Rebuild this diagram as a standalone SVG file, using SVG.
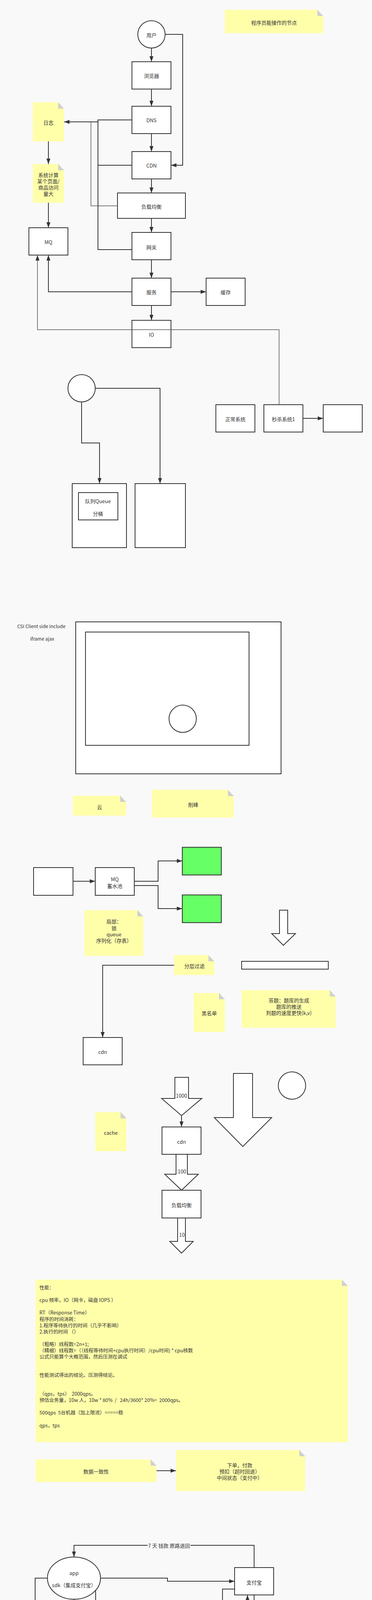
<svg xmlns="http://www.w3.org/2000/svg" width="953" height="5716" viewBox="0 0 953 5716">
<style>
text{font-family:"Noto Sans CJK SC","Liberation Sans",sans-serif;font-size:13px;fill:#333;text-anchor:middle;dominant-baseline:central}
.b{fill:#fff;stroke:#333;stroke-width:2}
.g{fill:#66ff66;stroke:#333;stroke-width:2}
.n{fill:#ffffaa;stroke:none}
.f{fill:#d0d0d0;stroke:none}
.c{fill:none;stroke:#333;stroke-width:2}
.ca{fill:none;stroke:#333;stroke-width:2;marker-end:url(#ah)}
.cg{fill:none;stroke:#555;stroke-width:1.5}
.cga{fill:none;stroke:#555;stroke-width:1.5;marker-end:url(#ah)}
.ba{fill:#fff;stroke:#333;stroke-width:2}
.l{text-anchor:start;font-size:12.5px}
.s{font-size:12px}
</style>
<defs>
<marker id="ah" markerUnits="userSpaceOnUse" markerWidth="14" markerHeight="10" refX="14" refY="5" orient="auto">
<path d="M0,0 L14,5 L0,10 z" fill="#333"/>
</marker>
</defs>
<rect x="0" y="0" width="953" height="5716" fill="#f9f9f9"/>

<g id="nodes">
<g id="note-prog"><polygon class="n" points="576,25 813,25 828,41 828,85 576,85"/><polygon class="f" points="813,25 828,41 813,41"/><text x="702" y="57">程序员能操作的节点</text></g>
<g id="user"><circle class="b" cx="388" cy="88" r="35"/><text x="388" y="89">用户</text></g>
<g id="browser"><rect class="b" x="338" y="158" width="100" height="70"/><text x="388" y="193">浏览器</text></g>
<g id="dns"><rect class="b" x="338" y="272" width="100" height="70"/><text x="388" y="307">DNS</text></g>
<g id="cdn"><rect class="b" x="338" y="388" width="100" height="70"/><text x="388" y="423">CDN</text></g>
<g id="lb"><rect class="b" x="301" y="494" width="174" height="65"/><text x="388" y="528">负载均衡</text></g>
<g id="gateway"><rect class="b" x="338" y="595" width="100" height="70"/><text x="388" y="632">网关</text></g>
<g id="service"><rect class="b" x="338" y="712" width="100" height="70"/><text x="388" y="747">服务</text></g>
<g id="cache1"><rect class="b" x="528" y="712" width="100" height="70"/><text x="578" y="747">缓存</text></g>
<g id="mq"><rect class="b" x="74" y="583" width="100" height="70"/><text x="124" y="619">MQ</text></g>
<g id="io"><rect class="b" x="338" y="820" width="100" height="70"/><text x="388" y="856">IO</text></g>
<g id="log"><polygon class="n" points="84,262 149,262 164,278 164,362 84,362"/><polygon class="f" points="149,262 164,278 149,278"/><text x="124" y="313">日志</text></g>
<g id="note-calc"><polygon class="n" points="84,420 149,420 164,436 164,519 84,519"/><polygon class="f" points="149,420 164,436 149,436"/><text x="124" y="447">系统计算</text><text x="124" y="463">某个页面/</text><text x="124" y="479">商品访问</text><text x="124" y="495">量大</text></g>
<g id="normal"><rect class="b" x="553" y="1036" width="100" height="70"/><text x="603" y="1072">正常系统</text></g>
<g id="seckill"><rect class="b" x="676" y="1036" width="100" height="70"/><text x="726" y="1072">秒杀系统1</text></g>
<g id="blank1"><rect class="b" x="828" y="1036" width="100" height="70"/></g>
<g id="circle1"><circle class="b" cx="209" cy="994" r="35"/></g>
<g id="queue-outer"><rect class="b" x="185" y="1238" width="139" height="164"/></g>
<g id="queue-inner"><rect class="b" x="201" y="1261" width="101" height="70"/><text x="251" y="1282">队列Queue</text><text x="251" y="1314">分桶</text></g>
<g id="tall-right"><rect class="b" x="346" y="1238" width="129" height="164"/></g>

<g id="csi-label"><text class="s" x="106" y="1602">CSI Client side include</text><text class="s" x="108" y="1634">iframe ajax</text></g>
<g id="csi-outer"><rect class="b" x="194" y="1592" width="526" height="389"/></g>
<g id="csi-inner"><rect class="b" x="219" y="1618" width="419" height="290"/></g>
<g id="csi-circle"><circle class="b" cx="468" cy="1840" r="35"/></g>

<g id="note-cloud"><polygon class="n" points="187,2037 308,2037 323,2053 323,2088 187,2088"/><polygon class="f" points="308,2037 323,2053 308,2053"/><text x="255" y="2065">云</text></g>
<g id="note-peak"><polygon class="n" points="389,2022 584,2022 599,2038 599,2093 389,2093"/><polygon class="f" points="584,2022 599,2038 584,2038"/><text x="495" y="2059">削峰</text></g>
<g id="src"><rect class="b" x="86" y="2221" width="101" height="71"/></g>
<g id="mq2"><rect class="b" x="244" y="2221" width="100" height="71"/><text x="294" y="2250">MQ</text><text x="294" y="2267">蓄水池</text></g>
<g id="green1"><rect class="g" x="467" y="2169" width="100" height="71"/></g>
<g id="green2"><rect class="g" x="467" y="2291" width="100" height="71"/></g>
<g id="note-local"><polygon class="n" points="216,2330 352,2330 367,2346 367,2447 216,2447"/><polygon class="f" points="352,2330 367,2346 352,2346"/><text x="292" y="2358">局部：</text><text x="292" y="2375">锁</text><text x="292" y="2391">queue</text><text x="292" y="2407">序列化（存表）</text></g>
<g id="barrow1"><polygon class="ba" points="716,2330 737,2330 737,2390 757,2390 726,2420 696,2390 716,2390"/></g>
<g id="note-layer"><polygon class="n" points="446,2445 534,2445 549,2461 549,2496 446,2496"/><polygon class="f" points="534,2445 549,2461 534,2461"/><text x="498" y="2472">分层过滤</text></g>
<g id="wide-rect"><rect class="b" x="619" y="2461" width="222" height="20"/></g>
<g id="note-black"><polygon class="n" points="496,2542 561,2542 576,2558 576,2642 496,2642"/><polygon class="f" points="561,2542 576,2558 561,2558"/><text x="536" y="2593">黑名单</text></g>
<g id="note-quiz"><polygon class="n" points="619,2535 845,2535 860,2551 860,2631 619,2631"/><polygon class="f" points="845,2535 860,2551 845,2551"/><text x="740" y="2560">答题：题库的生成</text><text x="740" y="2576">题库的推送</text><text x="740" y="2592">判题的速度更快(k,v)</text></g>
<g id="cdn-a"><rect class="b" x="213" y="2656" width="100" height="70"/><text x="263" y="2692">cdn</text></g>
<g id="barrow1000"><polygon class="ba" points="448,2758 483,2758 483,2812 517,2812 465,2856 414,2812 448,2812"/><text x="465" y="2804">1000</text></g>
<g id="barrow-big"><polygon class="ba" points="598,2748 647,2748 647,2861 696,2861 622,2935 549,2861 598,2861"/></g>
<g id="circle2"><circle class="b" cx="748" cy="2779" r="35"/></g>
<g id="note-cache"><polygon class="n" points="244,2847 309,2847 324,2863 324,2947 244,2947"/><polygon class="f" points="309,2847 324,2863 309,2863"/><text x="284" y="2899">cache</text></g>
<g id="cdn-b"><rect class="b" x="415" y="2885" width="100" height="70"/><text x="465" y="2922">cdn</text></g>
<g id="barrow100"><polygon class="ba" points="451,2955 480,2955 480,3006 508,3006 465,3047 422,3006 451,3006"/><text x="466" y="2998">100</text></g>
<g id="lb2"><rect class="b" x="415" y="3047" width="100" height="71"/><text x="465" y="3084">负载均衡</text></g>
<g id="barrow10"><polygon class="ba" points="455,3118 475,3118 475,3178 495,3178 465,3208 435,3178 455,3178"/><text x="466" y="3160">10</text></g>

<g id="note-perf"><polygon class="n" points="91,3276 876,3276 891,3292 891,3692 91,3692"/><polygon class="f" points="876,3276 891,3292 876,3292"/>
<text class="l" x="101" y="3295">性能：</text>
<text class="l" x="101" y="3327">cpu 频率，IO（网卡，磁盘 IOPS ）</text>
<text class="l" x="101" y="3359">RT（Response Time）</text>
<text class="l" x="101" y="3376">程序的时间消耗：</text>
<text class="l" x="101" y="3392">1.程序等待执行的时间（几乎不影响）</text>
<text class="l" x="101" y="3408">2.执行的时间 （）</text>
<text class="l" x="101" y="3440">（粗略）线程数=2n+1;</text>
<text class="l" x="101" y="3456">（精细）线程数=（（线程等待时间+cpu执行时间）/cpu时间) * cpu核数</text>
<text class="l" x="101" y="3472">公式只能算个大概范围，然后压测在调试</text>
<text class="l" x="101" y="3519">性能测试得出的结论。压测得结论。</text>
<text class="l" x="101" y="3567" xml:space="preserve">（qps，tps）  2000qps。</text>
<text class="l" x="101" y="3583" xml:space="preserve">预估业务量，10w 人，10w * 80%  /   24h/3600* 20%=  2000qps。</text>
<text class="l" x="101" y="3615" xml:space="preserve">500qps  5台机器（加上限流）=====稳</text>
<text class="l" x="101" y="3648">qps，tps</text>
</g>

<g id="note-consist"><polygon class="n" points="91,3736 386,3736 401,3752 401,3794 91,3794"/><polygon class="f" points="386,3736 401,3752 386,3752"/><text x="246" y="3766">数据一致性</text></g>
<g id="note-order"><polygon class="n" points="451,3712 767,3712 782,3728 782,3817 451,3817"/><polygon class="f" points="767,3712 782,3728 767,3728"/><text x="614" y="3750">下单，付款</text><text x="614" y="3766">预扣（超时回退）</text><text x="614" y="3782">中间状态（支付中）</text></g>
<g id="app"><ellipse class="b" cx="189.5" cy="4040" rx="68" ry="54"/><text x="189.5" y="4026">app</text><text x="189.5" y="4057">sdk（集成支付宝）</text></g>
<g id="alipay"><rect class="b" x="601" y="4013" width="100" height="70"/><text x="651" y="4050">支付宝</text></g>
<g id="query"><ellipse class="b" cx="446" cy="4227" rx="34" ry="35"/><text x="446" y="4213">查询支</text><text x="446" y="4229">付状态</text><text x="446" y="4245">接口</text></g>
<g id="note-unpaid"><polygon class="n" points="100,4246 256,4246 271,4262 271,4326 100,4326"/><polygon class="f" points="256,4246 271,4262 256,4262"/><text x="185" y="4287" xml:space="preserve">没付款成功  支付中</text></g>
<g id="oursys"><rect class="b" x="601" y="4304" width="100" height="70"/><text x="651" y="4340">我方系统</text></g>
<g id="changeorder"><rect class="b" x="368" y="4304" width="101" height="70"/><text x="419" y="4325">改订单状态</text><text x="419" y="4341">后面的业务逻</text><text x="419" y="4357">辑</text></g>
<g id="timer"><ellipse class="b" cx="384" cy="4541" rx="144" ry="41"/><text x="384" y="4543">定时任务、消息队列</text></g>
<g id="store"><circle class="b" cx="651" cy="4469" r="35"/><text x="651" y="4470">存库</text></g>

<g id="jvm1"><rect class="b" x="43" y="4720" width="232" height="162"/><text x="159" y="4770">jvm</text><text x="159" y="4803">stw</text><text x="159" y="4834">start the world</text></g>
<g id="redis"><rect class="b" x="495" y="4725" width="100" height="70"/><text x="545" y="4754">redis</text><text x="545" y="4770">key</text></g>
<g id="blank2"><rect class="b" x="752" y="4664" width="100" height="70"/></g>
<g id="note-seq"><polygon class="n" points="366,4809 431,4809 446,4825 446,4909 366,4909"/><polygon class="f" points="431,4809 446,4825 431,4825"/><text x="406" y="4860">序号</text></g>
<g id="note-gid"><polygon class="n" points="498,4809 563,4809 578,4825 578,4909 498,4909"/><polygon class="f" points="563,4809 578,4825 563,4825"/><text x="538" y="4860">商品ID:v</text></g>
<g id="jvm2"><rect class="b" x="100" y="4934" width="158" height="174"/><text x="179" y="5023">jvm</text></g>
<g id="zk1"><rect class="b" x="508" y="4936" width="99" height="71"/><text x="557" y="4974">zk</text></g>
<g id="note-zkmysql"><polygon class="n" points="360,5043 613,5043 628,5059 628,5151 360,5151"/><polygon class="f" points="613,5043 628,5059 613,5059"/><text x="495" y="5099">zk+mysql 乐观锁</text></g>
<g id="req1"><circle class="b" cx="255" cy="5238" r="35"/><text x="255" y="5240">请求</text></g>
<g id="req2"><circle class="b" cx="759" cy="5234" r="35"/><text x="759" y="5236">请求</text></g>
<g id="zk2"><rect class="b" x="495" y="5225" width="100" height="71"/><text x="545" y="5263">zk</text></g>
<g id="note-1"><polygon class="n" points="336,5307 400,5307 415,5323 415,5407 336,5407"/><polygon class="f" points="400,5307 415,5323 400,5323"/><text x="375" y="5358">1</text></g>
<g id="note-2"><polygon class="n" points="670,5305 812,5305 827,5321 827,5409 670,5409"/><polygon class="f" points="812,5305 827,5321 812,5321"/><text x="748" y="5342">2</text><text x="748" y="5358">full gc</text><text x="748" y="5374">stop the world</text></g>
<g id="db"><rect class="b" x="325" y="5458" width="101" height="70"/><text x="375" y="5494">db version 2</text></g>
<g id="circle3"><circle class="b" cx="825" cy="5656" r="35"/></g>
</g>

<g id="connectors">
<path class="ca" d="M388,123 V158"/>
<path class="ca" d="M423,88 H468 V423 H438"/>
<path class="ca" d="M388,228 V272"/>
<path class="ca" d="M388,342 V388"/>
<path class="ca" d="M388,458 V494"/>
<path class="ca" d="M388,559 V595"/>
<path class="ca" d="M388,665 V712"/>
<path class="ca" d="M438,747 H528"/>
<path class="ca" d="M388,782 V820"/>
<path class="ca" d="M338,747 H124 V653"/>
<path class="c" d="M338,307 H251 V639 H338"/>
<path class="c" d="M338,423 H251"/>
<path class="ca" d="M251,312 H164"/>
<path class="cg" d="M301,527 H233 V312"/>
<path class="ca" d="M124,362 V420"/>
<path class="ca" d="M124,519 V583"/>
<path class="cga" d="M715,1036 V844 H96 V653"/>
<path class="ca" d="M244,994 H410 V1238"/>
<path class="ca" d="M209,1029 V1134 H255 V1238"/>
<path class="ca" d="M776,1071 H828"/>

<path class="ca" d="M187,2256 H244"/>
<path class="ca" d="M344,2256 H405 V2204 H467"/>
<path class="ca" d="M344,2267 H405 V2326 H467"/>
<path class="ca" d="M446,2471 H263 V2656"/>
<path class="ca" d="M465,2856 V2885"/>

<path class="ca" d="M401,3765 H451"/>
<path class="ca" d="M651,4013 V3956 H189.5 V3986"/>
<rect x="378" y="3947" width="110" height="18" fill="#f9f9f9"/>
<text x="433" y="3956">7 天 钱款 原路退回</text>
<path class="ca" d="M258,4040 H429 V4048 H601"/>
<path class="ca" d="M601,4068 H570 V4124 H189.5 V4094"/>
<rect x="380" y="4115" width="54" height="18" fill="#f9f9f9"/>
<text x="407" y="4124">付款状态</text>
<path class="ca" d="M245,4071 V4227 H412"/>
<path class="ca" d="M480,4227 H634 V4083"/>
<path class="ca" d="M651,4083 V4304"/>
<path class="ca" d="M601,4339 H469"/>
<path class="ca" d="M121,4040 H90 V4339 H368"/>
<path class="ca" d="M419,4374 V4436 H383 V4500"/>
<path class="ca" d="M651,4374 V4434"/>
<path class="ca" d="M616,4469 H571 V4541 H528"/>

<path class="ca" d="M275,4756 H383 V4760 H495"/>
<rect x="372" y="4749" width="26" height="18" fill="#f9f9f9"/>
<text x="385" y="4758">dog</text>
<path class="ca" d="M752,4699 H674 V4760 H595"/>
<path class="ca" d="M498,4859 H446"/>
<path class="ca" d="M258,4971 H383 V4972 H508"/>
<path class="ca" d="M289,5239 H393 V5261 H495"/>
<path class="ca" d="M725,5235 H660 V5261 H595"/>
<path class="ca" d="M545,5296 V5357 H415"/>
<path class="ca" d="M595,5276 H632 V5357 H670"/>
<path class="ca" d="M375,5407 V5458"/>
<path class="ca" d="M255,5273 V5493 H325"/>
<path class="ca" d="M748,5409 V5493 H426"/>
</g>
</svg>
